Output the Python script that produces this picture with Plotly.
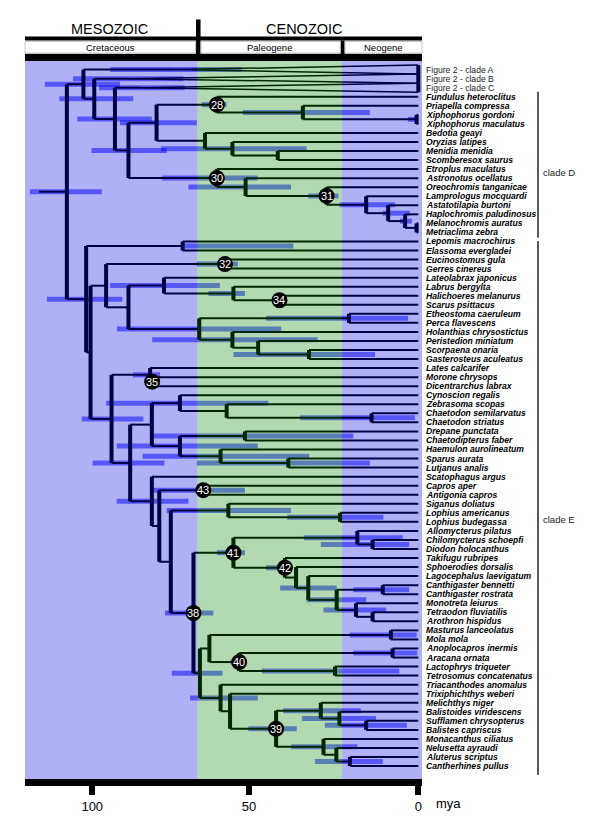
import plotly.graph_objects as go

# ---------------- data ----------------
tip_labels = [
    "Figure 2 - clade A", "Figure 2 - clade B", "Figure 2 - clade C",
    "Fundulus heteroclitus", "Priapella compressa", "Xiphophorus gordoni", "Xiphophorus maculatus",
    "Bedotia geayi", "Oryzias latipes", "Menidia menidia", "Scomberesox saurus",
    "Etroplus maculatus", "Astronotus ocellatus", "Oreochromis tanganicae", "Lamprologus mocquardi",
    "Astatotilapia burtoni", "Haplochromis paludinosus", "Melanochromis auratus", "Metriaclima zebra",
    "Lepomis macrochirus", "Elassoma evergladei", "Eucinostomus gula", "Gerres cinereus",
    "Lateolabrax japonicus", "Labrus bergylta", "Halichoeres melanurus", "Scarus psittacus",
    "Etheostoma caeruleum", "Perca flavescens", "Holanthias chrysostictus", "Peristedion miniatum",
    "Scorpaena onaria", "Gasterosteus aculeatus", "Lates calcarifer", "Morone chrysops",
    "Dicentrarchus labrax", "Cynoscion regalis", "Zebrasoma scopas", "Chaetodon semilarvatus",
    "Chaetodon striatus", "Drepane punctata", "Chaetodipterus faber", "Haemulon aurolineatum",
    "Sparus aurata", "Lutjanus analis", "Scatophagus argus", "Capros aper", "Antigonia capros",
    "Siganus doliatus", "Lophius americanus", "Lophius budegassa", "Allomycterus pilatus",
    "Chilomycterus schoepfi", "Diodon holocanthus", "Takifugu rubripes", "Sphoerodies dorsalis",
    "Lagocephalus laevigatum", "Canthigaster bennetti", "Canthigaster rostrata", "Monotreta leiurus",
    "Tetraodon fluviatilis", "Arothron hispidus", "Masturus lanceolatus", "Mola mola",
    "Anoplocapros inermis", "Aracana ornata", "Lactophrys triqueter", "Tetrosomus concatenatus",
    "Triacanthodes anomalus", "Trixiphichthys weberi", "Melichthys niger", "Balistoides viridescens",
    "Sufflamen chrysopterus", "Balistes capriscus", "Monacanthus ciliatus", "Nelusetta ayraudi",
    "Aluterus scriptus", "Cantherhines pullus",
]
tip_parent = [
    "CA", "CB", "CC",
    "N28", "PX", "XX", "XX",
    "N6", "N7", "N8", "N8",
    "N30", "N9", "N31", "N10", "N11", "N12", "N13", "N13",
    "E1", "E1", "N32", "N32", "E5", "E6", "N34", "N34",
    "EP", "EP", "E8", "E9", "SG", "SG", "N35", "MD", "MD",
    "E13", "E14", "CH", "CH", "E16", "E16", "E17", "SL", "SL",
    "E18", "N43", "N43", "E21", "LO", "LO", "DI", "CD", "CD",
    "N42", "T2", "LC", "CG", "CG", "MT", "TA", "TA",
    "MO", "MO", "AA", "AA", "LT", "LT", "E24", "E25",
    "B1", "B2", "B3", "B3", "M1", "M2", "M3", "M3",
]
collapsed_tips = ["Figure 2 - clade A", "Figure 2 - clade B", "Figure 2 - clade C"]

node_id = ["ROOT", "N1", "N2", "N3", "CA", "CB", "CC", "N4", "N5", "N28", "PX", "XX", "N6", "N7", "N8",
           "N30", "N9", "N31", "N10", "N11", "N12", "N13",
           "E0", "E1", "E2", "E3", "N32", "E4", "E5", "E6", "N34", "E7", "EP", "E8", "E9", "SG",
           "E10", "N35", "MD", "E11", "E12", "E13", "E14", "CH", "E15", "E16", "E17", "SL",
           "E18", "E19", "N43", "E20", "E21", "LO", "N38", "N41", "DI", "CD", "N42", "T2", "LC",
           "CM", "CG", "MT", "TA", "E22", "E23", "MO", "N40", "AA", "LT", "E24", "E25", "N39",
           "B1", "B2", "B3", "M1", "M2", "M3"]
node_parent = [None, "ROOT", "N1", "N2", "N1", "N2", "N3", "N3", "N4", "N5", "N28", "PX", "N5", "N6", "N7",
               "N4", "N30", "N9", "N31", "N10", "N11", "N12",
               "ROOT", "E0", "E0", "E2", "E3", "E3", "E4", "E5", "E6", "E4", "E7", "E7", "E8", "E9",
               "E2", "E10", "N35", "E10", "E11", "E12", "E13", "E14", "E12", "E15", "E15", "E17",
               "E11", "E18", "E19", "E19", "E20", "E21", "E20", "N38", "N41", "DI", "N41", "N42", "T2",
               "LC", "CM", "CM", "MT", "N38", "E22", "E23", "E23", "N40", "N40", "E22", "E24", "E25",
               "N39", "B1", "B2", "N39", "M1", "M2"]
node_age = [103.8, 98.9, 95.7, 89.6, 72.0, 86.0, 82.0, 85.6, 77.3, 59.5, 34.1, 0.5, 63.0, 54.9, 41.5,
            59.5, 51.0, 27.1, 15.4, 8.9, 3.9, 0.5,
            98.1, 69.6, 96.8, 92.2, 57.1, 85.6, 75.1, 54.6, 41.0, 64.7, 20.5, 54.9, 47.3, 32.3,
            90.6, 79.2, 78.6, 85.1, 78.7, 70.4, 56.6, 13.8, 70.4, 51.2, 58.4, 38.4,
            78.7, 76.5, 63.5, 73.1, 56.1, 23.1, 66.4, 54.6, 18.0, 13.5, 39.4, 36.1, 32.5,
            24.1, 10.5, 18.4, 13.5, 64.5, 61.7, 8.1, 52.9, 7.6, 24.6, 58.4, 55.6, 42.0,
            28.8, 23.3, 15.4, 28.0, 24.2, 20.2]
hpd_old = [114.7, 110.3, 106.0, 100.7, 91.0, 102.0, 94.3, 96.5, 88.1, 64.0, 51.8, 3.1, None, 76.0, None,
           75.6, 67.9, 32.5, 23.3, 10.5, 5.4, 1.2,
           109.7, 69.6, None, None, 65.4, None, 91.0, 62.0, None, 89.0, 45.0, 78.6, None, 54.6,
           99.4, 84.3, None, 96.2, None, 92.2, None, 34.9, 89.1, 78.3, 81.4, 65.4,
           89.1, None, 78.7, None, 74.3, 38.7, 74.8, 59.5, 33.8, 28.8, 45.0, None, 40.8,
           33.0, 19.2, 28.0, None, 72.8, None, 20.2, 55.5, 19.2, 46.2, 67.4, None, 50.2,
           39.9, 34.4, 27.6, 37.5, None, 30.5]
hpd_young = [93.5, 88.1, 84.2, 78.7, 52.0, 69.4, 69.0, 74.3, 65.4, 56.6, 14.3, 0.1, None, 33.0, None,
             47.5, 37.6, 23.6, 6.9, 2.5, 1.9, 0.1,
             87.4, 36.9, None, None, 53.3, None, 58.6, 51.2, None, 40.5, 3.0, 29.7, None, 12.8,
             81.2, 76.3, None, 75.0, None, 44.3, None, 1.0, 47.4, 19.2, 32.2, 14.3,
             67.9, None, 51.2, None, 37.6, 10.3, 60.5, 51.2, 4.6, 2.7, 37.9, None, 24.1,
             15.4, 2.7, 9.5, None, 57.8, None, 0.5, 52.0, 0.3, 5.6, 47.4, None, 35.9,
             17.0, 12.5, 3.4, 18.0, None, 10.5]
root_stem_age = 112.0

calib_node = ["N28", "N30", "N31", "N32", "N34", "MD", "N43", "N41", "N42", "N38", "N40", "N39"]
calib_label = ["28", "30", "31", "32", "34", "35", "43", "41", "42", "38", "40", "39"]

era_bounds = [65.2, 22.5]          # K/Pg and Paleogene/Neogene (mya)
tick_vals = [96.3, 50, 0]
tick_text = ["100", "50", "0"]
clade_names = ["clade D", "clade E"]
clade_rows = [(3.45, 19.6), (19.95, 79.0)]
clade_label_rows = [12.4, 50.7]

# ---------------- geometry helpers ----------------
# The page body has an 8px margin; page pixel positions below include it.
OFF = 8
X_RANGE = [116.16, -1.093]
Y_RANGE = [79.43, 0.049]
PL, PR, PT, PB = 25, 422, 61, 779          # plot area in page pixels
W, H = 584, 820
L, T = PL - OFF, PT - OFF
R, B = W - (PR - OFF), H - (PB - OFF)
PW, PH = PR - PL, PB - PT


def paper_x(px):
    return (px - PL) / PW


def paper_y(py):
    return (PB - py) / PH


def age_to_px(a):
    return PL + PW * (X_RANGE[0] - a) / (X_RANGE[0] - X_RANGE[1])


row_of = {lab: i + 1 for i, lab in enumerate(tip_labels)}
age = dict(zip(node_id, node_age))
children = {n: [] for n in node_id}
for lab, p in zip(tip_labels, tip_parent):
    children[p].append(("tip", lab))
for n, p in zip(node_id, node_parent):
    if p is not None:
        children[p].append(("node", n))

ypos = {}


def gety(kind, name):
    if kind == "tip":
        return row_of[name]
    if name not in ypos:
        ys = [gety(*c) for c in children[name]]
        ypos[name] = (min(ys) + max(ys)) / 2
    return ypos[name]


for n in node_id:
    gety("node", n)

collapsed_crowns = [tip_parent[tip_labels.index(t)] for t in collapsed_tips]

hx, hy, vx, vy, bx, by, tx, ty = [], [], [], [], [], [], [], []
hx += [root_stem_age, age["ROOT"], None]
hy += [ypos["ROOT"], ypos["ROOT"], None]
for n, p in zip(node_id, node_parent):
    if p is not None:
        hx += [age[p], age[n], None]
        hy += [ypos[n], ypos[n], None]
for lab, p in zip(tip_labels, tip_parent):
    r = row_of[lab]
    if lab in collapsed_tips:
        half = 0.5
        tx += [age[p], 0, None, age[p], 0, None]
        ty += [r, r - half, None, r, r + half, None]
        vx += [0, 0, None]
        vy += [r - half, r + half, None]
    else:
        hx += [age[p], 0, None]
        hy += [r, r, None]
for n in node_id:
    if n in collapsed_crowns:
        continue
    ys = [gety(*c) for c in children[n]]
    vx += [age[n], age[n], None]
    vy += [min(ys), max(ys), None]
for n, o, yg in zip(node_id, hpd_old, hpd_young):
    if o is not None:
        bx += [o, yg, None]
        by += [ypos[n], ypos[n], None]

fig = go.Figure()
fig.add_trace(go.Scatter(x=bx, y=by, mode="lines", line=dict(color="rgba(0,0,255,0.5)", width=5),
                         hoverinfo="skip", showlegend=False))
fig.add_trace(go.Scatter(x=hx, y=hy, mode="lines", line=dict(color="black", width=2),
                         hoverinfo="skip", showlegend=False))
fig.add_trace(go.Scatter(x=tx, y=ty, mode="lines", line=dict(color="black", width=1.5),
                         hoverinfo="skip", showlegend=False))
fig.add_trace(go.Scatter(x=vx, y=vy, mode="lines", line=dict(color="black", width=4),
                         hoverinfo="skip", showlegend=False))

shapes = []
edges = [X_RANGE[0]] + era_bounds + [X_RANGE[1]]
tints = ["rgba(0,0,230,0.31)", "rgba(0,128,0,0.30)", "rgba(0,0,230,0.31)"]
for i in range(3):
    shapes.append(dict(type="rect", xref="x", yref="paper", x0=edges[i], x1=edges[i + 1], y0=0, y1=1,
                       fillcolor=tints[i], line=dict(width=0), layer="above"))
for n in calib_node:
    shapes.append(dict(type="circle", xref="x", yref="y", xsizemode="pixel", ysizemode="pixel",
                       xanchor=age[n], yanchor=ypos[n], x0=-8, x1=8, y0=-8, y1=8,
                       fillcolor="black", line=dict(width=0), layer="above"))


def prect(x0, x1, y0, y1, fill="black", line=None):
    d = dict(type="rect", xref="paper", yref="paper", x0=paper_x(x0), x1=paper_x(x1),
             y0=paper_y(y0), y1=paper_y(y1), fillcolor=fill, layer="above")
    d["line"] = line if line else dict(width=0)
    return d


kx = age_to_px(era_bounds[0])
nx = age_to_px(era_bounds[1])
shapes.append(prect(PL, PR, 36.5, 40.5))
shapes.append(prect(PL, PR, 53.8, 61))
shapes.append(prect(kx - 1.5, kx + 3, 19.5, 54))
shapes.append(prect(nx - 1.5, nx + 2.5, 40.5, 54))
gray = dict(color="#c8c8c8", width=1)
shapes.append(prect(PL, kx - 2, 41.5, 53, fill="rgba(0,0,0,0)", line=gray))
shapes.append(prect(kx + 3.5, nx - 2, 41.5, 53, fill="rgba(0,0,0,0)", line=gray))
shapes.append(prect(nx + 3, PR, 41.5, 53, fill="rgba(0,0,0,0)", line=gray))
for (r0, r1) in clade_rows:
    shapes.append(dict(type="line", xref="paper", yref="y", x0=paper_x(538), x1=paper_x(538),
                       y0=r0, y1=r1, line=dict(color="#222222", width=1.5)))

ann = []
FONT = "Liberation Sans, Arial, sans-serif"
for n, t in zip(calib_node, calib_label):
    ann.append(dict(x=age[n], y=ypos[n], xref="x", yref="y", text=t, showarrow=False,
                    font=dict(family=FONT, size=11, color="white")))
for lab in tip_labels:
    if lab in collapsed_tips:
        f = dict(family=FONT, size=8.6, color="#222222")
    else:
        f = dict(family=FONT, size=8.6, color="black", weight="bold", style="italic")
    ann.append(dict(x=paper_x(424), y=row_of[lab], xref="paper", yref="y", text=lab, showarrow=False,
                    xanchor="left", yanchor="middle", font=f))
for name, yr in zip(clade_names, clade_label_rows):
    ann.append(dict(x=paper_x(541), y=yr, xref="paper", yref="y", text=name, showarrow=False,
                    xanchor="left", yanchor="middle", font=dict(family=FONT, size=9.5, color="#222222")))
hdr = [("MESOZOIC", 109.5, 29, 14.5), ("CENOZOIC", 304, 29, 14.5),
       ("Cretaceous", 110.5, 47.3, 9.5), ("Paleogene", 269, 47.3, 9.5), ("Neogene", 383, 47.3, 9.5)]
for txt, x, y, s in hdr:
    ann.append(dict(x=paper_x(x), y=paper_y(y), xref="paper", yref="paper", text=txt, showarrow=False,
                    xanchor="center", yanchor="middle", font=dict(family=FONT, size=s, color="black")))
ann.append(dict(x=paper_x(448), y=paper_y(804), xref="paper", yref="paper", text="mya", showarrow=False,
                xanchor="center", yanchor="middle", font=dict(family=FONT, size=13, color="black")))

fig.update_layout(
    width=W, height=H, margin=dict(l=L, r=R, t=T, b=B, pad=0),
    paper_bgcolor="white", plot_bgcolor="white", showlegend=False,
    shapes=shapes, annotations=ann,
    xaxis=dict(range=X_RANGE, showgrid=False, zeroline=False, showline=True, linecolor="black",
               linewidth=7, ticks="outside", tickwidth=6, ticklen=9, tickcolor="black",
               tickvals=tick_vals, ticktext=tick_text,
               tickfont=dict(family=FONT, size=13, color="black"), fixedrange=True),
    yaxis=dict(range=Y_RANGE, visible=False, fixedrange=True),
)
fig.write_html("out.html")
